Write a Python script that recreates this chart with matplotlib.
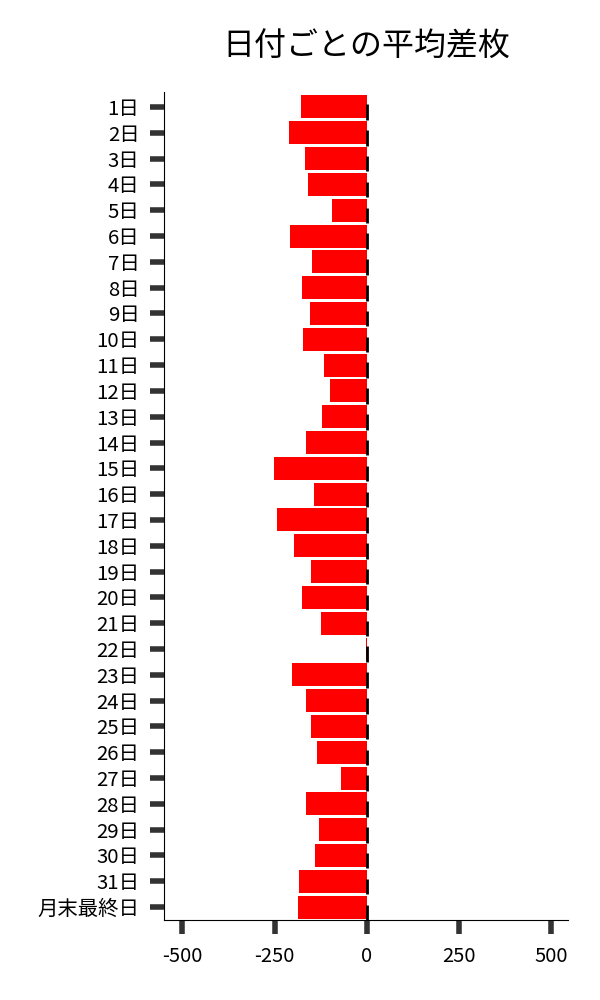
import matplotlib.pyplot as plt

plt.rcParams['font.family'] = ['Noto Sans CJK JP', 'DejaVu Sans']

# 日付ラベルと平均差枚
days = [f'{d}日' for d in range(1, 32)] + ['月末最終日']
avg_diff = [-179, -212, -168, -160, -95, -209, -149, -177, -155, -174,
            -117, -100, -122, -166, -253, -144, -245, -198, -152, -177,
            -125, -2, -204, -166, -152, -136, -71, -166, -130, -141,
            -185, -188]
xticks = [-500, -250, 0, 250, 500]

fig = plt.figure(figsize=(6, 10), dpi=100)
ax = fig.add_axes([0.274, 0.08, 0.673, 0.828])

pos = list(range(len(days)))
ax.barh(pos, avg_diff, height=0.89, color='#ff0000', zorder=2)
# ゼロ位置の黒い目印
ax.vlines([0] * len(days), [p - 0.1 for p in pos], [p + 0.5 for p in pos],
          color='black', linewidth=2, zorder=3)

ax.set_yticks(pos)
ax.set_yticklabels(days)
ax.set_ylim(len(days) - 0.5, -0.58)
ax.set_xticks(xticks)
ax.set_xticklabels([str(v) for v in xticks])
ax.set_xlim(-549, 546)

ax.spines['top'].set_visible(False)
ax.spines['right'].set_visible(False)
ax.tick_params(axis='y', length=10, width=4, color='#333333', pad=8, labelsize=14.7)
ax.tick_params(axis='x', length=10, width=4, color='#333333', pad=9, labelsize=14.5)

ax.set_title('日付ごとの平均差枚', fontsize=23, pad=26)

plt.savefig('out.png')
